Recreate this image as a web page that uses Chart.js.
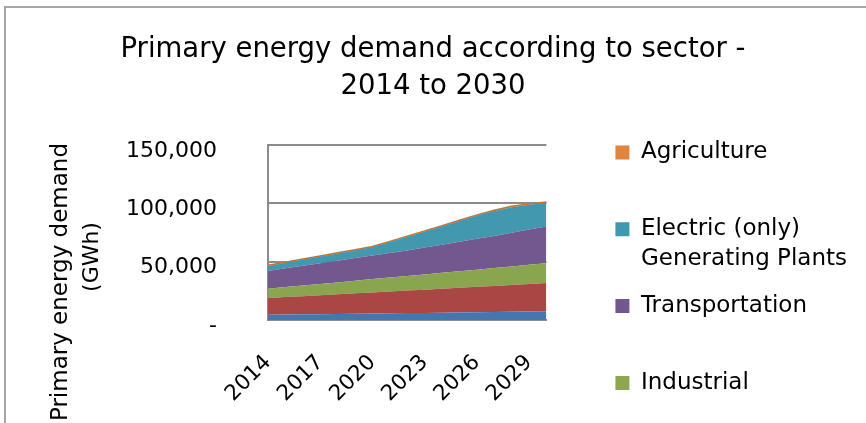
<!DOCTYPE html>
<html>
<head>
<meta charset="utf-8">
<script src="https://cdn.jsdelivr.net/npm/chart.js@4/dist/chart.umd.min.js"></script>
<style>
  html, body { margin: 0; padding: 0; background: #fff; }
  #wrap { position: relative; width: 866px; height: 423px; overflow: hidden; background: #fff; }
  #frame { position: absolute; left: 4px; top: 6px; width: 900px; height: 500px;
           border-left: 2px solid #a6a6a6; border-top: 2px solid #a6a6a6; pointer-events: none; }
  #c { position: absolute; left: 0; top: 0; }
</style>
</head>
<body>
<div id="wrap">
  <div id="frame"></div>
  <canvas id="c" width="866" height="560" style="width:866px;height:560px"></canvas>
</div>
<script>
// ---- data (GWh) ----
const years = ['2014','2015','2016','2017','2018','2019','2020','2021','2022','2023','2024','2025','2026','2027','2028','2029','2030'];
const tickYears = ['2014','2017','2020','2023','2026','2029'];
const residential    = [4500,4700,4900,5000,5200,5400,5600,5700,5900,6100,6300,6500,6700,6900,7000,7200,7400];
const commercial     = [14300,14900,15500,16200,16800,17400,18000,18700,19300,19900,20500,21100,21700,22300,23000,23600,24200];
const industrial     = [8000,8600,9100,9700,10200,10800,11400,11900,12500,13000,13600,14200,14700,15300,15800,16400,16900];
const transportation = [15200,16000,16900,17700,18600,19400,20200,21100,21800,23000,24100,25200,26400,27500,29000,30200,31500];
const electric       = [4300,4800,5300,5700,6200,6700,7200,9300,11700,13700,15700,17800,19900,21400,21800,21300,20300];
const agriculture    = [500,500,500,500,500,500,600,600,600,600,600,600,600,600,700,700,700];
const yTicks = [0, 50000, 100000, 150000];

const seriesNames = ['Residential', 'Commercial', 'Industrial', 'Transportation',
                     ['Electric (only)', 'Generating Plants'], 'Agriculture'];
const seriesData = [residential, commercial, industrial, transportation, electric, agriculture];
const seriesColors = ['#4676b0', '#aa4643', '#89a54e', '#72588f', '#4198af', '#db843d'];
const legendColors = ['#4f81bd', '#c0504d', '#8ba752', '#72578f', '#3f98b0', '#e0853e'];
const titleLines = ['Primary energy demand according to sector -', '2014 to 2030'];
const yTitleLines = ['Primary energy demand', '(GWh)'];

const FONT = "'DejaVu Sans', sans-serif";

const datasets = seriesData.map((d, i) => ({
  label: Array.isArray(seriesNames[i]) ? seriesNames[i].join(' ') : seriesNames[i],
  data: d,
  backgroundColor: seriesColors[i],
  borderColor: i === 5 ? '#c8742f' : seriesColors[i],
  borderWidth: i === 5 ? 1.5 : 0,
  fill: i === 0 ? 'origin' : '-1',
  pointRadius: 0,
  tension: 0
}));

const yTitlePlugin = {
  id: 'yTitle',
  afterDraw(chart) {
    const ctx = chart.ctx;
    ctx.save();
    ctx.fillStyle = '#000';
    ctx.font = "23px " + FONT;
    ctx.textBaseline = 'middle';
    ctx.translate(61, 143);
    ctx.rotate(-Math.PI / 2);
    ctx.textAlign = 'right';
    ctx.fillText(yTitleLines[0], 0, 0);
    ctx.restore();
    ctx.save();
    ctx.fillStyle = '#000';
    ctx.font = "22px " + FONT;
    ctx.textBaseline = 'middle';
    ctx.translate(92, 257);
    ctx.rotate(-Math.PI / 2);
    ctx.textAlign = 'center';
    ctx.fillText(yTitleLines[1], 0, 0);
    ctx.restore();
  }
};

new Chart(document.getElementById('c'), {
  type: 'line',
  data: { labels: years, datasets },
  plugins: [yTitlePlugin],
  options: {
    responsive: false,
    animation: false,
    events: [],
    layout: { padding: { left: 9, right: 9, top: 0, bottom: 0 } },
    plugins: {
      tooltip: { enabled: false },
      title: {
        display: true,
        text: titleLines,
        color: '#000',
        font: { family: FONT, size: 27.5, weight: 'normal', lineHeight: 1.36 },
        padding: { top: 31, bottom: 39 }
      },
      legend: {
        position: 'right',
        align: 'start',
        reverse: true,
        maxWidth: 400,
        title: { display: true, text: '', padding: { top: 123, bottom: 0 }, font: { size: 1, lineHeight: 1 } },
        labels: {
          boxWidth: 14,
          boxHeight: 14,
          padding: 17,
          color: '#000',
          font: { family: FONT, size: 23, lineHeight: 1.3 },
          filter: (item) => item.datasetIndex >= 2,
          generateLabels(chart) {
            const items = Chart.defaults.plugins.legend.labels.generateLabels(chart);
            return items.map(it => {
              const n = seriesNames[it.datasetIndex];
              it.text = Array.isArray(n) ? n : [n, ''];
              it.fillStyle = legendColors[it.datasetIndex];
              it.strokeStyle = legendColors[it.datasetIndex];
              it.lineWidth = 0;
              return it;
            });
          }
        }
      }
    },
    scales: {
      x: {
        grid: { display: false },
        border: { display: true, color: '#8c8c8c', width: 2 },
        ticks: {
          autoSkip: false,
          maxRotation: 45,
          minRotation: 45,
          padding: 22,
          color: '#000',
          font: { family: FONT, size: 21.5 },
          callback: function (v, i) { const y = years[i]; return tickYears.includes(y) ? y : ''; }
        },
        afterFit(s) { s.height = 560 - 320; }
      },
      y: {
        stacked: true,
        min: 0,
        max: 150000,
        afterBuildTicks(s) { s.ticks = yTicks.map(v => ({ value: v })); },
        grid: { color: '#8c8c8c', lineWidth: 2, drawTicks: false },
        border: { display: true, color: '#8c8c8c', width: 2 },
        ticks: {
          padding: 51,
          labelOffset: 6,
          color: '#000',
          font: { family: FONT, size: 22 },
          callback: (v) => v === 0 ? '-' : v.toLocaleString('en-US')
        },
        afterFit(s) { s.width = 259; }
      },
      y2: {
        position: 'right',
        display: true,
        grid: { display: false },
        border: { display: false },
        ticks: { display: false },
        afterFit(s) { s.width = 52; }
      }
    }
  }
});
</script>
</body>
</html>
